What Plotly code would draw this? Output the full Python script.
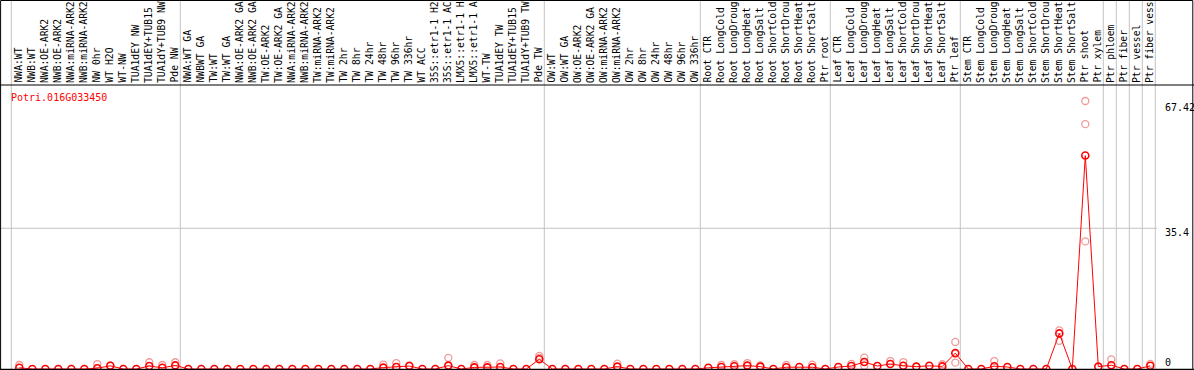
import plotly.graph_objects as go

gene = "Potri.016G033450"

labels = [
    "NWA:WT", "NWB:WT", "NWA:OE-ARK2", "NWB:OE-ARK2", "NWA:miRNA-ARK2", "NWB:miRNA-ARK2",
    "NW 0hr", "WT H2O", "WT-NW", "TUA1dEY NW", "TUA1dEY+TUB15 NW", "TUA1dY+TUB9 NW", "Pde NW",
    "NWA:WT GA", "NWBWT GA", "TW:WT", "TW:WT GA", "NWA:OE-ARK2 GA", "NWB:OE-ARK2 GA",
    "TW:OE-ARK2", "TW:OE-ARK2 GA", "NWA:miRNA-ARK2 GA", "NWB:miRNA-ARK2 GA", "TW:miRNA-ARK2",
    "TW:miRNA-ARK2 GA", "TW 2hr", "TW 8hr", "TW 24hr", "TW 48hr", "TW 96hr", "TW 336hr",
    "WT ACC", "35S::etr1-1 H2O", "35S::etr1-1 ACC", "LMX5::etr1-1 H2O", "LMX5::etr1-1 ACC",
    "WT-TW", "TUA1dEY TW", "TUA1dEY+TUB15 TW", "TUA1dY+TUB9 TW", "Pde TW",
    "OW:WT", "OW:WT GA", "OW:OE-ARK2", "OW:OE-ARK2 GA", "OW:miRNA-ARK2", "OW:miRNA-ARK2 GA",
    "OW 2hr", "OW 8hr", "OW 24hr", "OW 48hr", "OW 96hr", "OW 336hr",
    "Root CTR", "Root LongCold", "Root LongDrought", "Root LongHeat", "Root LongSalt",
    "Root ShortCold", "Root ShortDrought", "Root ShortHeat", "Root ShortSalt", "Ptr root",
    "Leaf CTR", "Leaf LongCold", "Leaf LongDrought", "Leaf LongHeat", "Leaf LongSalt",
    "Leaf ShortCold", "Leaf ShortDrought", "Leaf ShortHeat", "Leaf ShortSalt", "Ptr leaf",
    "Stem CTR", "Stem LongCold", "Stem LongDrought", "Stem LongHeat", "Stem LongSalt",
    "Stem ShortCold", "Stem ShortDrought", "Stem ShortHeat", "Stem ShortSalt", "Ptr shoot",
    "Ptr xylem", "Ptr phloem", "Ptr fiber", "Ptr vessel", "Ptr fiber vessel",
]

means = [
    0.3, 0, 0, 0, 0, 0, 0.2, 0.8, 0, 0, 0.75, 0.3, 0.9,
    0, 0, 0, 0, 0, 0, 0, 0, 0, 0, 0, 0, 0, 0, 0, 0.35, 0.5, 0.75,
    0, 0, 0.85, 0, 0.4, 0.4, 0.5, 0, 0, 2.45,
    0, 0, 0, 0, 0, 0.6, 0, 0, 0, 0, 0, 0,
    0.3, 0.5, 0.7, 0.85, 0.6, 0, 0.45, 0.5, 0.45, 0,
    0.5, 0.75, 1.75, 0.75, 1.25, 0.8, 0.6, 0.8, 0.65, 4.0,
    0, 0, 0.7, 0.5, 0, 0, 0, 8.95, 0, 53.7,
    0.6, 0.95, 0, 0, 0.8,
]

rep_idx = [0, 6, 7, 10, 11, 12, 28, 29, 30, 33, 35, 36, 37, 40, 40, 46,
           54, 55, 56, 57, 59, 61, 64, 65, 65, 67, 68, 71, 72, 72, 75,
           80, 80, 82, 82, 82, 84, 87]
rep_vals = [1.0, 1.25, 0.9, 1.7, 1.0, 1.7, 1.1, 1.5, 0.9, 2.8, 1.0, 1.0, 1.4, 3.3, 2.8, 1.35,
            1.0, 1.2, 1.5, 0.9, 1.0, 1.1, 1.3, 2.85, 0.8, 2.0, 1.75, 1.2, 6.8, 1.6, 2.0,
            9.7, 7.1, 67.42, 61.6, 32.1, 2.4, 1.3]

group_ends = [-1, 12, 40, 52, 62, 72, 83, 84, 85, 86, 87]
y_labels = ["67.42", "35.4", "0"]
y_grid = 35.4
max_label_chars = 14

W, H = 1194, 370
x0px, step = 19.3, 13.0
ymax = 284 / 3.975
FONT = "DejaVu Sans Mono"
GRID = "#c4c4c4"

def py(p):
    return (H - p) / H

fig = go.Figure()
fig.add_trace(go.Scatter(
    x=rep_idx, y=rep_vals, mode="markers",
    marker=dict(symbol="circle-open", size=7, color="#ef9a9a", line=dict(width=1.3, color="#ef9a9a")),
    hoverinfo="skip",
))
fig.add_trace(go.Scatter(
    x=list(range(len(labels))), y=means, mode="lines+markers",
    line=dict(color="#ff0000", width=1),
    marker=dict(symbol="circle-open", size=7, color="#ff0000", line=dict(width=1.6, color="#ff0000")),
    text=labels,
))

shapes = []
for g in group_ends:
    shapes.append(dict(type="line", xref="x", yref="paper", x0=g + 5 / 13, x1=g + 5 / 13,
                       y0=0, y1=1, line=dict(color=GRID, width=1), layer="below"))
shapes.append(dict(type="line", xref="paper", yref="y", x0=0, x1=1157 / W, y0=y_grid, y1=y_grid,
                   line=dict(color=GRID, width=1), layer="below"))
shapes.append(dict(type="line", xref="paper", yref="paper", x0=0, x1=1, y0=py(85), y1=py(85),
                   line=dict(color="black", width=1)))
shapes.append(dict(type="line", xref="paper", yref="paper", x0=0, x1=1, y0=py(369.5), y1=py(369.5),
                   line=dict(color="black", width=1.5)))
shapes.append(dict(type="rect", xref="paper", yref="paper", x0=0.6 / W, x1=1 - 1.2 / W, y0=py(369.5), y1=1 - 0.5 / H,
                   line=dict(color="black", width=1)))

annotations = []
for k, lab in enumerate(labels):
    annotations.append(dict(x=k - 0.1, y=py(84), xref="x", yref="paper", text=lab[:max_label_chars],
                            textangle=-90, xanchor="center", yanchor="bottom", showarrow=False,
                            borderpad=0, font=dict(family=FONT, size=9.7, color="black")))
for txt, ypx in zip(y_labels, [107, 232, 362]):
    annotations.append(dict(x=1163 / W, y=py(ypx), xref="paper", yref="paper", text=txt,
                            xanchor="left", yanchor="middle", showarrow=False,
                            font=dict(family=FONT, size=10, color="black")))
annotations.append(dict(x=9 / W, y=py(97), xref="paper", yref="paper", text=gene,
                        xanchor="left", yanchor="middle", showarrow=False,
                        font=dict(family=FONT, size=10, color="#ff0000")))

fig.update_layout(
    width=W, height=H, margin=dict(l=0, r=0, t=0, b=0),
    paper_bgcolor="white", plot_bgcolor="white", showlegend=False,
    xaxis=dict(range=[-x0px / step, (W - x0px) / step], domain=[0, 1], showgrid=False,
               zeroline=False, showticklabels=False, ticks=""),
    yaxis=dict(range=[0, ymax], domain=[py(369), py(85)], showgrid=False,
               zeroline=False, showticklabels=False, ticks=""),
    shapes=shapes, annotations=annotations,
)

fig.write_html("out.html", config={"displayModeBar": False},
               post_script="document.body.style.margin='0';document.body.style.overflow='hidden';")
